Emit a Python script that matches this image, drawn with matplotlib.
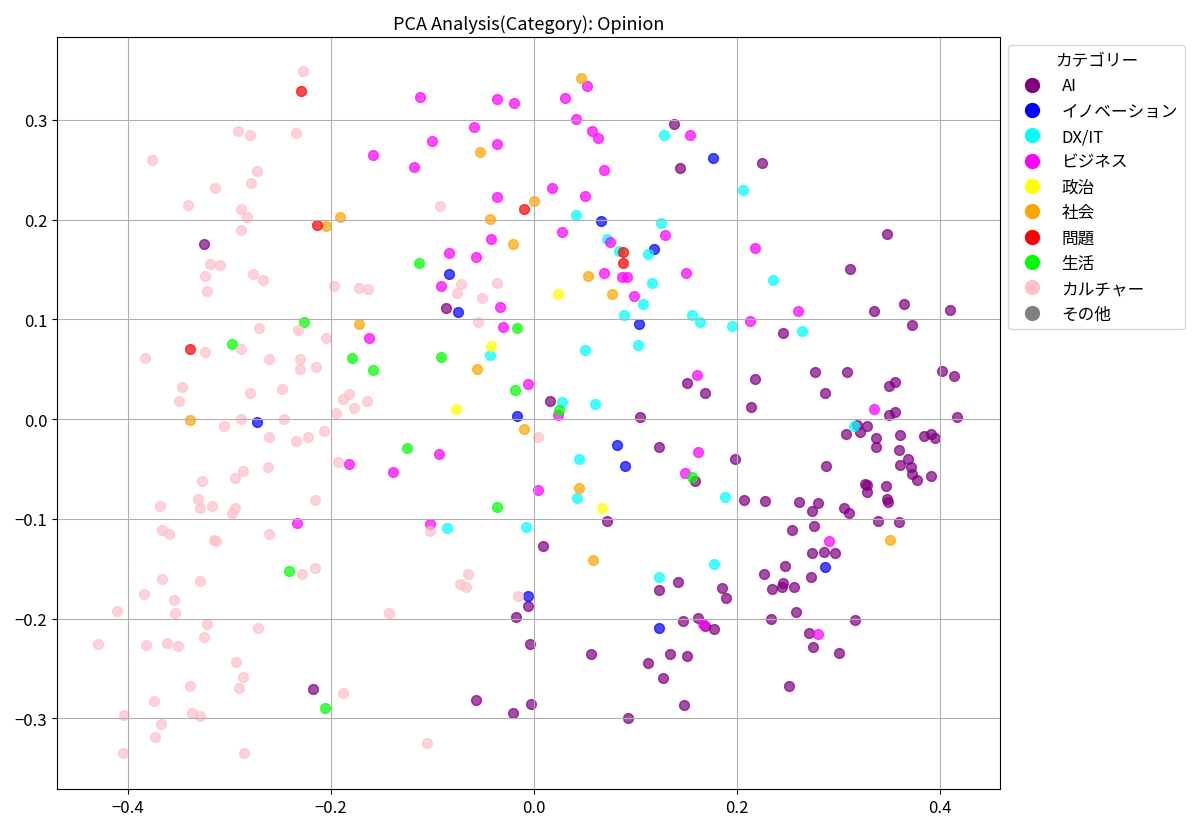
import matplotlib
matplotlib.use("Agg")
import matplotlib.pyplot as plt
from matplotlib.lines import Line2D
import numpy as np

plt.rcParams['font.family'] = ['Noto Sans CJK JP', 'DejaVu Sans']

# PCA座標 (x, y) をカテゴリ毎に
ai_pts = [
    (-0.325, 0.176), (-0.087, 0.111), (0.016, 0.018), (0.072, -0.102), (0.009, -0.127),
    (-0.006, -0.187), (-0.018, -0.198), (-0.004, -0.226), (0.056, -0.236), (-0.057, -0.282),
    (-0.003, -0.286), (-0.021, -0.295), (-0.218, -0.271), (0.138, 0.296), (0.144, 0.252),
    (0.225, 0.257), (0.311, 0.150), (0.245, 0.086), (0.151, 0.036), (0.168, 0.026),
    (0.218, 0.040), (0.214, 0.012), (0.277, 0.047), (0.308, 0.047), (0.287, 0.026),
    (0.104, 0.002), (0.123, -0.028), (0.198, -0.040), (0.159, -0.062), (0.207, -0.081),
    (0.228, -0.082), (0.261, -0.083), (0.280, -0.084), (0.274, -0.092), (0.305, -0.089),
    (0.310, -0.094), (0.288, -0.047), (0.307, -0.015), (0.254, -0.111), (0.276, -0.107),
    (0.274, -0.134), (0.286, -0.133), (0.296, -0.134), (0.273, -0.158), (0.247, -0.147),
    (0.227, -0.155), (0.234, -0.170), (0.245, -0.164), (0.244, -0.168), (0.256, -0.168),
    (0.258, -0.193), (0.233, -0.200), (0.316, -0.201), (0.271, -0.215), (0.275, -0.229),
    (0.300, -0.235), (0.251, -0.268), (0.123, -0.171), (0.142, -0.163), (0.185, -0.169),
    (0.189, -0.179), (0.162, -0.199), (0.147, -0.202), (0.168, -0.208), (0.177, -0.211),
    (0.134, -0.236), (0.151, -0.238), (0.112, -0.245), (0.127, -0.260), (0.148, -0.287),
    (0.093, -0.300), (0.348, 0.186), (0.364, 0.115), (0.335, 0.108), (0.410, 0.109),
    (0.372, 0.094), (0.402, 0.048), (0.414, 0.043), (0.356, 0.037), (0.350, 0.033),
    (0.350, 0.004), (0.356, 0.007), (0.417, 0.002), (0.318, -0.006), (0.328, -0.007),
    (0.321, -0.013), (0.337, -0.019), (0.337, -0.028), (0.361, -0.016), (0.384, -0.017),
    (0.391, -0.015), (0.395, -0.019), (0.360, -0.031), (0.368, -0.040), (0.371, -0.048),
    (0.361, -0.046), (0.372, -0.055), (0.377, -0.061), (0.391, -0.057), (0.326, -0.065),
    (0.328, -0.066), (0.328, -0.073), (0.347, -0.067), (0.348, -0.080), (0.349, -0.083),
    (0.339, -0.102), (0.360, -0.103),
]
innovation_pts = [
    (-0.273, -0.003), (-0.084, 0.145), (-0.075, 0.107), (0.066, 0.199), (-0.017, 0.003),
    (0.082, -0.026), (-0.006, -0.177), (0.176, 0.262), (0.118, 0.171), (0.103, 0.095),
    (0.090, -0.047), (0.287, -0.148), (0.123, -0.210),
]
dxit_pts = [
    (0.041, 0.205), (0.072, 0.181), (-0.043, 0.064), (0.050, 0.069), (0.028, 0.017),
    (0.060, 0.015), (0.044, -0.040), (0.042, -0.079), (-0.086, -0.109), (-0.008, -0.108),
    (0.128, 0.285), (0.206, 0.230), (0.125, 0.197), (0.084, 0.169), (0.112, 0.166),
    (0.116, 0.136), (0.107, 0.115), (0.089, 0.104), (0.102, 0.074), (0.156, 0.104),
    (0.163, 0.097), (0.195, 0.093), (0.235, 0.139), (0.264, 0.088), (0.188, -0.078),
    (0.177, -0.145), (0.123, -0.158), (0.315, -0.007),
]
business_pts = [
    (-0.159, 0.265), (-0.163, 0.081), (-0.182, -0.045), (-0.234, -0.104), (-0.112, 0.323),
    (-0.037, 0.321), (-0.020, 0.317), (0.030, 0.322), (0.052, 0.334), (0.041, 0.301),
    (0.057, 0.289), (0.063, 0.282), (-0.059, 0.293), (-0.101, 0.279), (-0.037, 0.276),
    (-0.118, 0.253), (0.069, 0.250), (0.018, 0.232), (0.050, 0.224), (-0.037, 0.223),
    (0.028, 0.188), (0.075, 0.178), (-0.042, 0.181), (-0.084, 0.167), (-0.057, 0.163),
    (-0.092, 0.133), (0.069, 0.146), (-0.034, 0.112), (-0.031, 0.092), (-0.006, 0.035),
    (0.024, 0.004), (-0.094, -0.035), (-0.139, -0.053), (0.004, -0.071), (-0.103, -0.105),
    (0.154, 0.285), (0.129, 0.185), (0.150, 0.146), (0.087, 0.142), (0.092, 0.142),
    (0.098, 0.123), (0.213, 0.098), (0.218, 0.172), (0.260, 0.108), (0.161, 0.044),
    (0.162, -0.033), (0.149, -0.054), (0.291, -0.122), (0.280, -0.216), (0.166, -0.206),
    (0.335, 0.010),
]
politics_pts = [(0.024, 0.125), (-0.042, 0.073), (-0.077, 0.010), (0.067, -0.089)]
society_pts = [
    (-0.191, 0.203), (-0.205, 0.194), (-0.172, 0.095), (-0.339, -0.001), (0.046, 0.342),
    (-0.053, 0.268), (0.000, 0.219), (-0.043, 0.201), (-0.021, 0.176), (0.053, 0.143),
    (0.077, 0.125), (-0.056, 0.050), (-0.010, -0.010), (0.044, -0.069), (0.058, -0.141),
    (0.351, -0.121),
]
problem_pts = [
    (-0.230, 0.329), (-0.214, 0.195), (-0.339, 0.070), (-0.010, 0.211), (0.088, 0.168),
    (0.088, 0.157),
]
life_pts = [
    (-0.227, 0.097), (-0.298, 0.075), (-0.179, 0.061), (-0.159, 0.049), (-0.241, -0.152),
    (-0.206, -0.290), (-0.113, 0.157), (-0.017, 0.091), (-0.092, 0.062), (-0.019, 0.029),
    (0.025, 0.009), (-0.125, -0.029), (-0.037, -0.088), (0.156, -0.058),
]
culture_pts = [
    (-0.228, 0.349), (-0.292, 0.289), (-0.280, 0.285), (-0.235, 0.287), (-0.376, 0.260),
    (-0.273, 0.249), (-0.279, 0.237), (-0.314, 0.232), (-0.341, 0.215), (-0.289, 0.211),
    (-0.283, 0.203), (-0.289, 0.190), (-0.319, 0.155), (-0.309, 0.154), (-0.324, 0.143),
    (-0.277, 0.145), (-0.267, 0.139), (-0.322, 0.128), (-0.197, 0.133), (-0.172, 0.131),
    (-0.164, 0.130), (-0.233, 0.089), (-0.271, 0.091), (-0.205, 0.081), (-0.324, 0.067),
    (-0.289, 0.070), (-0.383, 0.061), (-0.261, 0.060), (-0.231, 0.060), (-0.231, 0.050),
    (-0.215, 0.052), (-0.347, 0.032), (-0.350, 0.018), (-0.280, 0.026), (-0.248, 0.030),
    (-0.188, 0.020), (-0.182, 0.025), (-0.165, 0.018), (-0.177, 0.011), (-0.195, 0.006),
    (-0.305, -0.007), (-0.289, 0.000), (-0.246, 0.000), (-0.261, -0.018), (-0.235, -0.022),
    (-0.223, -0.018), (-0.207, -0.012), (-0.193, -0.043), (-0.327, -0.062), (-0.295, -0.059),
    (-0.287, -0.052), (-0.262, -0.048), (-0.369, -0.087), (-0.331, -0.080), (-0.329, -0.089),
    (-0.317, -0.087), (-0.295, -0.089), (-0.298, -0.094), (-0.216, -0.081), (-0.367, -0.111),
    (-0.360, -0.115), (-0.315, -0.121), (-0.313, -0.122), (-0.261, -0.115), (-0.229, -0.155),
    (-0.216, -0.149), (-0.367, -0.160), (-0.329, -0.162), (-0.384, -0.175), (-0.355, -0.181),
    (-0.354, -0.194), (-0.411, -0.192), (-0.322, -0.206), (-0.272, -0.210), (-0.430, -0.226),
    (-0.382, -0.227), (-0.362, -0.225), (-0.351, -0.228), (-0.325, -0.219), (-0.294, -0.244),
    (-0.287, -0.259), (-0.291, -0.270), (-0.339, -0.268), (-0.188, -0.275), (-0.374, -0.283),
    (-0.404, -0.297), (-0.337, -0.295), (-0.329, -0.298), (-0.368, -0.306), (-0.373, -0.319),
    (-0.405, -0.335), (-0.286, -0.335), (-0.093, 0.214), (-0.072, 0.135), (-0.076, 0.126),
    (-0.037, 0.136), (-0.051, 0.121), (-0.055, 0.097), (0.004, -0.018), (-0.103, -0.112),
    (-0.065, -0.155), (-0.073, -0.165), (-0.067, -0.168), (-0.016, -0.177), (-0.143, -0.194),
    (-0.105, -0.325),
]
other_pts = []

categories = ['AI', 'イノベーション', 'DX/IT', 'ビジネス', '政治', '社会', '問題', '生活', 'カルチャー', 'その他']
colors = ['purple', 'blue', 'cyan', 'magenta', 'yellow', 'orange', 'red', 'lime', 'pink', 'gray']
points = [ai_pts, innovation_pts, dxit_pts, business_pts, politics_pts, society_pts,
          problem_pts, life_pts, culture_pts, other_pts]

fig = plt.figure(figsize=(12, 8.29), dpi=100)
ax = fig.add_axes([0.0475, 0.047, 0.7858, 0.907])

for pts, c in zip(points, colors):
    if len(pts) == 0:
        continue
    arr = np.array(pts)
    ax.scatter(arr[:, 0], arr[:, 1], color=c, alpha=0.7, s=50)

ax.set_xlim(-0.47, 0.459)
ax.set_ylim(-0.371, 0.383)
ax.set_xticks([-0.4, -0.2, 0.0, 0.2, 0.4])
ax.set_yticks([-0.3, -0.2, -0.1, 0.0, 0.1, 0.2, 0.3])
ax.tick_params(labelsize=12)
ax.grid(True)
ax.set_title('PCA Analysis(Category): Opinion', fontsize=13)

handles = [Line2D([0], [0], marker='o', color='w', markerfacecolor=c, markersize=12)
           for c in colors]
ax.legend(handles, categories, title='カテゴリー', loc='upper left',
          bbox_to_anchor=(1.0, 1.0), fontsize=12, title_fontsize=12)

fig.savefig('out.png')
